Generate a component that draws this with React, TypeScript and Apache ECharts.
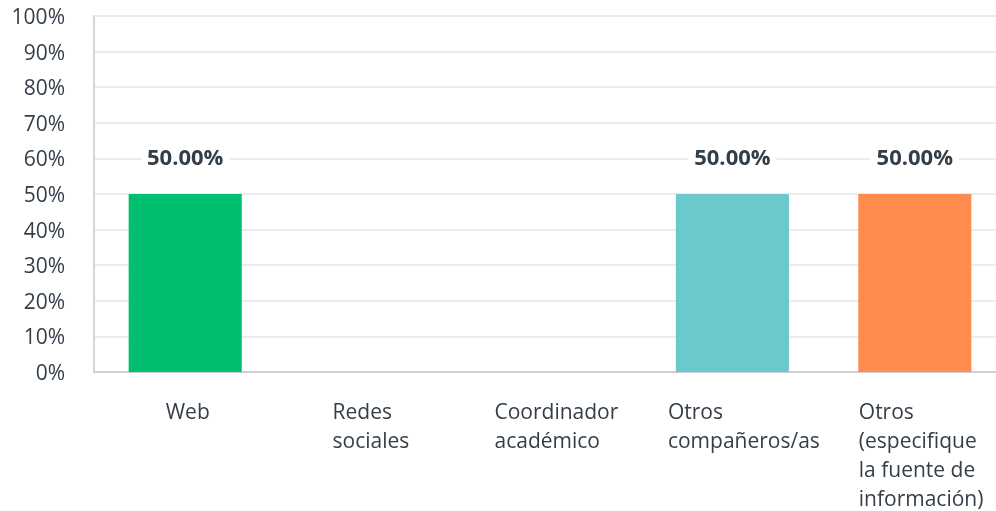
import React, { useEffect, useRef } from "react";
import * as echarts from "echarts";

const categories = [
  "Web",
  "Redes\nsociales",
  "Coordinador\nacadémico",
  "Otros\ncompañeros/as",
  "Otros\n(especifique\nla fuente de\ninformación)",
];
const values = [50, 0, 0, 50, 50];
const barColors = ["#00bf6f", "#507cb6", "#f9be00", "#6bc8cd", "#ff8b4f"];
const yTicks = [0, 10, 20, 30, 40, 50, 60, 70, 80, 90, 100];
const labelBlockWidths = [39, 70, 111, 129, 112];

const FONT = "'Open Sans', sans-serif";
const TEXT = "#333e48";

export default function App() {
  const ref = useRef<HTMLDivElement>(null);
  useEffect(() => {
    if (!ref.current) return;
    const chart = echarts.init(ref.current, null, { renderer: "svg" });
    const rich: Record<string, any> = {};
    labelBlockWidths.forEach((w, i) => {
      rich["c" + i] = {
        width: w,
        align: "left",
        fontFamily: FONT,
        fontSize: 21,
        color: TEXT,
        lineHeight: 29,
      };
    });
    chart.setOption({
      animation: false,
      textStyle: { fontFamily: FONT },
      grid: { left: 94, right: 0, top: 16, bottom: 139, containLabel: false },
      xAxis: {
        type: "category",
        data: categories,
        axisTick: { show: false },
        axisLine: { lineStyle: { color: "#cfcfcf", width: 2 } },
        axisLabel: {
          interval: 0,
          margin: 24,
          align: "center",
          verticalAlign: "top",
          formatter: (v: string, i: number) =>
            v
              .split("\n")
              .map((l) => `{c${i}|${l}}`)
              .join("\n"),
          rich,
        },
      },
      yAxis: {
        type: "value",
        min: yTicks[0],
        max: yTicks[yTicks.length - 1],
        interval: 10,
        axisLine: { show: true, lineStyle: { color: "#d6d6d6", width: 2 } },
        axisTick: { show: false },
        splitLine: { lineStyle: { color: "#ececec", width: 2 } },
        axisLabel: {
          formatter: "{value}%",
          fontSize: 21,
          color: TEXT,
          fontFamily: FONT,
          margin: 29,
        },
      },
      series: [
        {
          type: "bar",
          barWidth: "62%",
          data: values.map((v, i) => ({
            value: v,
            itemStyle: { color: barColors[i] },
          })),
          label: {
            show: true,
            position: "top",
            distance: 27,
            formatter: (p: any) => (p.value > 0 ? p.value.toFixed(2) + "%" : ""),
            fontFamily: FONT,
            fontSize: 22,
            fontWeight: "bold",
            color: TEXT,
            backgroundColor: "#fff",
            padding: [0, 6],
          },
        },
      ],
    });
    return () => chart.dispose();
  }, []);
  return (
    <div
      ref={ref}
      style={{ position: "fixed", left: 0, top: 0, width: 1006, height: 511 }}
    />
  );
}
